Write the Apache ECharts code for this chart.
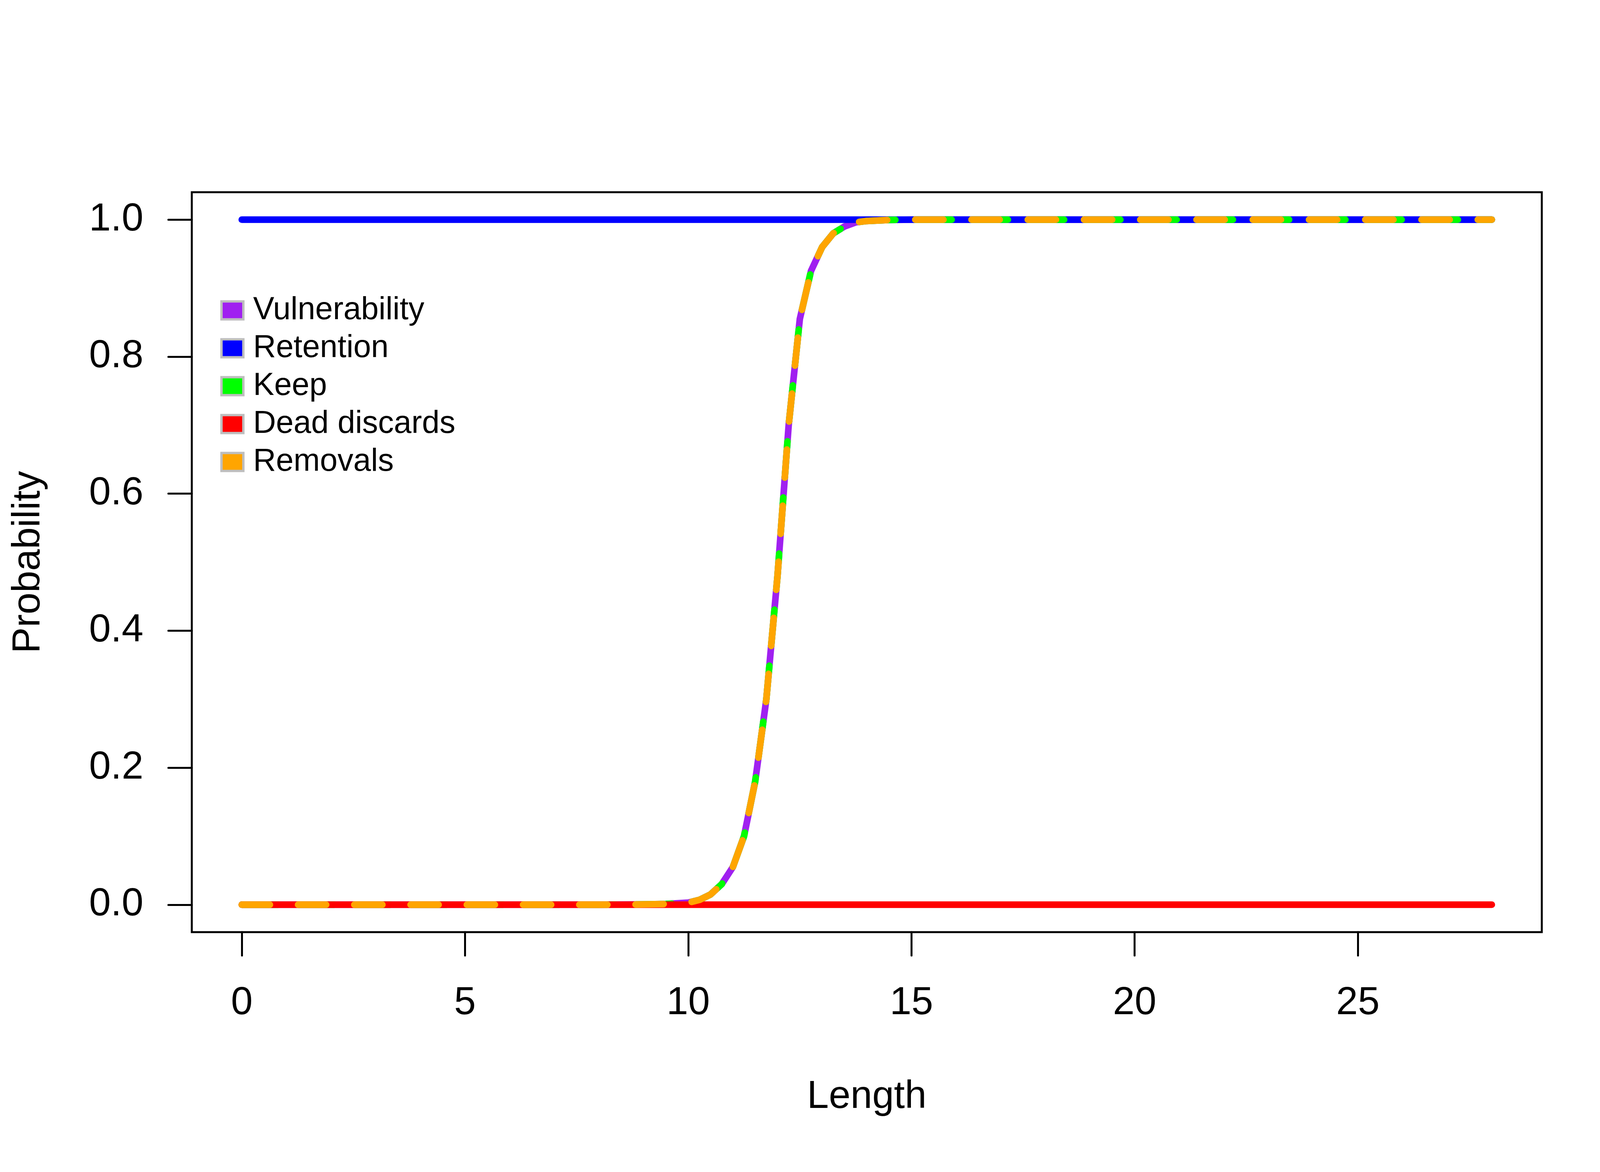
<!DOCTYPE html>
<html>
<head>
<meta charset="utf-8">
<script src="https://cdn.jsdelivr.net/npm/echarts@6/dist/echarts.min.js"></script>
<style>
html, body { margin: 0; padding: 0; background: #ffffff; }
#chart { width: 4200px; height: 3000px; }
</style>
</head>
<body>
<div id="chart"></div>
<script>
var lengths = [0,1,2,3,4,5,6,7,8,9,9.5,10,10.25,10.5,10.75,11,11.25,11.5,11.75,12,12.25,12.5,12.75,13,13.25,13.5,13.75,14,14.5,15,16,17,18,19,20,21,22,23,24,25,26,27,28];
var vulnerability = [0,0,0,0,0,0,0,0,0,0.0005,0.001,0.003,0.007,0.015,0.03,0.055,0.10,0.18,0.30,0.48,0.70,0.855,0.925,0.96,0.98,0.99,0.996,0.998,0.9995,1,1,1,1,1,1,1,1,1,1,1,1,1,1];
var retention = [1,1,1,1,1,1,1,1,1,1,1,1,1,1,1,1,1,1,1,1,1,1,1,1,1,1,1,1,1,1,1,1,1,1,1,1,1,1,1,1,1,1,1];
var keep = [0,0,0,0,0,0,0,0,0,0.0005,0.001,0.003,0.007,0.015,0.03,0.055,0.10,0.18,0.30,0.48,0.70,0.855,0.925,0.96,0.98,0.99,0.996,0.998,0.9995,1,1,1,1,1,1,1,1,1,1,1,1,1,1];
var deadDiscards = [0,0,0,0,0,0,0,0,0,0,0,0,0,0,0,0,0,0,0,0,0,0,0,0,0,0,0,0,0,0,0,0,0,0,0,0,0,0,0,0,0,0,0];
var removals = [0,0,0,0,0,0,0,0,0,0.0005,0.001,0.003,0.007,0.015,0.03,0.055,0.10,0.18,0.30,0.48,0.70,0.855,0.925,0.96,0.98,0.99,0.996,0.998,0.9995,1,1,1,1,1,1,1,1,1,1,1,1,1,1];
var seriesNames = ['Vulnerability', 'Retention', 'Keep', 'Dead discards', 'Removals'];
var xTicks = [0, 5, 10, 15, 20, 25];
var yTicks = [0, 0.2, 0.4, 0.6, 0.8, 1.0];

var colors = ['#A020F0', '#0000FF', '#00FF00', '#FF0000', '#FFA500'];
var dashes = ['solid', 'solid', [93, 51], 'solid', [72, 72]];
var values = [vulnerability, retention, keep, deadDiscards, removals];

function pairs(v) {
  var out = [];
  for (var i = 0; i < lengths.length; i++) out.push([lengths[i], v[i]]);
  return out;
}

var font = 'Liberation Sans, Arial, Helvetica, sans-serif';

var series = seriesNames.map(function (n, i) {
  return {
    name: n,
    type: 'line',
    data: pairs(values[i]),
    showSymbol: false,
    symbol: 'none',
    smooth: false,
    animation: false,
    color: colors[i],
    lineStyle: { color: colors[i], width: 17, type: dashes[i], cap: 'round', join: 'round' },
    z: 2
  };
});

var chart = echarts.init(document.getElementById('chart'), null, { renderer: 'canvas', devicePixelRatio: 1 });
chart.setOption({
  backgroundColor: '#ffffff',
  animation: false,
  grid: {
    left: 491, right: 253, top: 492, bottom: 614,
    show: true, borderColor: '#000000', borderWidth: 5, backgroundColor: 'transparent',
    containLabel: false
  },
  xAxis: {
    type: 'value',
    min: -1.12, max: 29.12,
    name: 'Length',
    nameLocation: 'middle',
    nameGap: 422,
    nameTextStyle: { fontFamily: font, fontSize: 100, color: '#000', verticalAlign: 'middle' },
    axisLine: { show: false, onZero: false },
    splitLine: { show: false },
    axisTick: { show: true, inside: false, length: 60, lineStyle: { color: '#000', width: 5, cap: 'round' }, customValues: xTicks },
    axisLabel: { show: true, margin: 132, fontFamily: font, fontSize: 100, color: '#000', customValues: xTicks,
      formatter: function (v) { return String(v); } }
  },
  yAxis: {
    type: 'value',
    min: -0.04, max: 1.04,
    name: 'Probability',
    nameLocation: 'middle',
    nameRotate: 90,
    nameGap: 418,
    nameTextStyle: { fontFamily: font, fontSize: 100, color: '#000', verticalAlign: 'middle', align: 'center' },
    axisLine: { show: false, onZero: false },
    splitLine: { show: false },
    axisTick: { show: true, inside: false, length: 60, lineStyle: { color: '#000', width: 5, cap: 'round' }, customValues: yTicks },
    axisLabel: { show: true, margin: 124, fontFamily: font, fontSize: 100, color: '#000', customValues: yTicks,
      formatter: function (v) { return v.toFixed(1); } }
  },
  legend: {
    show: true,
    orient: 'vertical',
    left: 564,
    top: 754,
    padding: 0,
    itemWidth: 56,
    itemHeight: 46,
    itemGap: 16,
    selectedMode: false,
    textStyle: { fontFamily: font, fontSize: 81, color: '#000', padding: [0, 0, 0, 20] },
    data: seriesNames.map(function (n, i) {
      return { name: n, icon: 'rect', itemStyle: { color: colors[i], borderColor: '#BEBEBE', borderWidth: 6 } };
    })
  },
  series: series
});
</script>
</body>
</html>
